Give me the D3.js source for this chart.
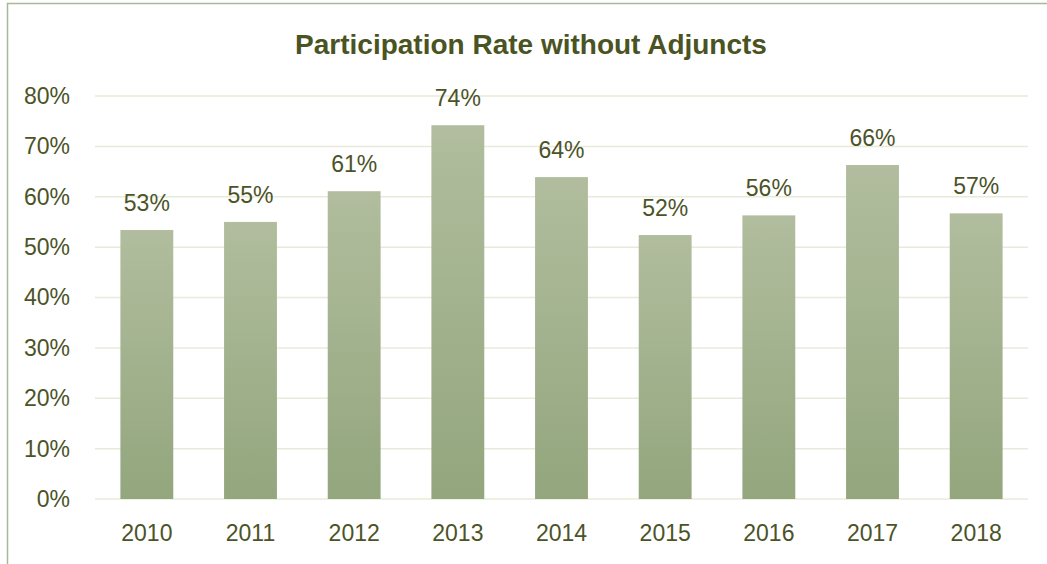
<!DOCTYPE html>
<html>
<head>
<meta charset="utf-8">
<script src="https://cdn.jsdelivr.net/npm/d3@7"></script>
<style>
  body { margin: 0; background: #fff; }
  svg text { font-family: "Liberation Sans", "DejaVu Sans", sans-serif; fill: #4b5327; }
</style>
</head>
<body>
<div id="chart"></div>
<script>
const years = ["2010", "2011", "2012", "2013", "2014", "2015", "2016", "2017", "2018"];
const rates = [0.534, 0.550, 0.611, 0.742, 0.639, 0.524, 0.563, 0.663, 0.567];
const yTicks = [0, 0.1, 0.2, 0.3, 0.4, 0.5, 0.6, 0.7, 0.8];
const title = "Participation Rate without Adjuncts";

const width = 1047, height = 564;
const margin = { top: 96, right: 19, bottom: 65, left: 95 };

const svg = d3.select("#chart").append("svg")
    .attr("width", width)
    .attr("height", height);

// gradient for bars
const grad = svg.append("defs").append("linearGradient")
    .attr("id", "barGrad")
    .attr("x1", 0).attr("y1", 0).attr("x2", 0).attr("y2", 1);
grad.append("stop").attr("offset", "0%").attr("stop-color", "#b1bd9e");
grad.append("stop").attr("offset", "100%").attr("stop-color", "#93a67d");

// chart frame (only top and left visible)
svg.append("path")
    .attr("d", `M7.5,${height} L7.5,3.5 L${width},3.5`)
    .attr("fill", "none")
    .attr("stroke", "#a9b896")
    .attr("stroke-width", 1.5);

const x = d3.scaleBand()
    .domain(years)
    .range([margin.left, width - margin.right])
    .paddingInner(0.49)
    .paddingOuter(0.245);

const y = d3.scaleLinear()
    .domain([0, 0.8])
    .range([height - margin.bottom, margin.top]);

// gridlines
svg.append("g")
    .selectAll("line")
    .data(yTicks)
    .enter().append("line")
    .attr("x1", margin.left)
    .attr("x2", width - margin.right)
    .attr("y1", d => y(d))
    .attr("y2", d => y(d))
    .attr("stroke", "#e8ebd9")
    .attr("stroke-width", 1.5);

// y axis labels
const yAxis = svg.append("g")
    .attr("transform", `translate(${margin.left - 25},0)`)
    .call(d3.axisLeft(y).tickValues(yTicks).tickFormat(d3.format(".0%")).tickSize(0).tickPadding(0));
yAxis.select(".domain").remove();
yAxis.selectAll("text")
    .attr("font-size", 23)
    .attr("font-family", null);

// x axis labels
const xAxis = svg.append("g")
    .attr("transform", `translate(0,${height - margin.bottom})`)
    .call(d3.axisBottom(x).tickSize(0).tickPadding(26));
xAxis.select(".domain").remove();
xAxis.selectAll("text")
    .attr("font-size", 23)
    .attr("font-family", null);

// bars
svg.append("g")
    .selectAll("rect")
    .data(rates)
    .enter().append("rect")
    .attr("x", (d, i) => x(years[i]))
    .attr("y", d => y(d))
    .attr("width", x.bandwidth())
    .attr("height", d => y(0) - y(d))
    .attr("fill", "url(#barGrad)");

// data labels
svg.append("g")
    .selectAll("text")
    .data(rates)
    .enter().append("text")
    .attr("x", (d, i) => x(years[i]) + x.bandwidth() / 2)
    .attr("y", d => y(d) - 19)
    .attr("text-anchor", "middle")
    .attr("font-size", 23)
    .text(d => d3.format(".0%")(d));

// title
svg.append("text")
    .attr("x", 531)
    .attr("y", 54)
    .attr("text-anchor", "middle")
    .attr("font-size", 28)
    .attr("font-weight", "bold")
    .style("fill", "#4a5322")
    .text(title);
</script>
</body>
</html>
